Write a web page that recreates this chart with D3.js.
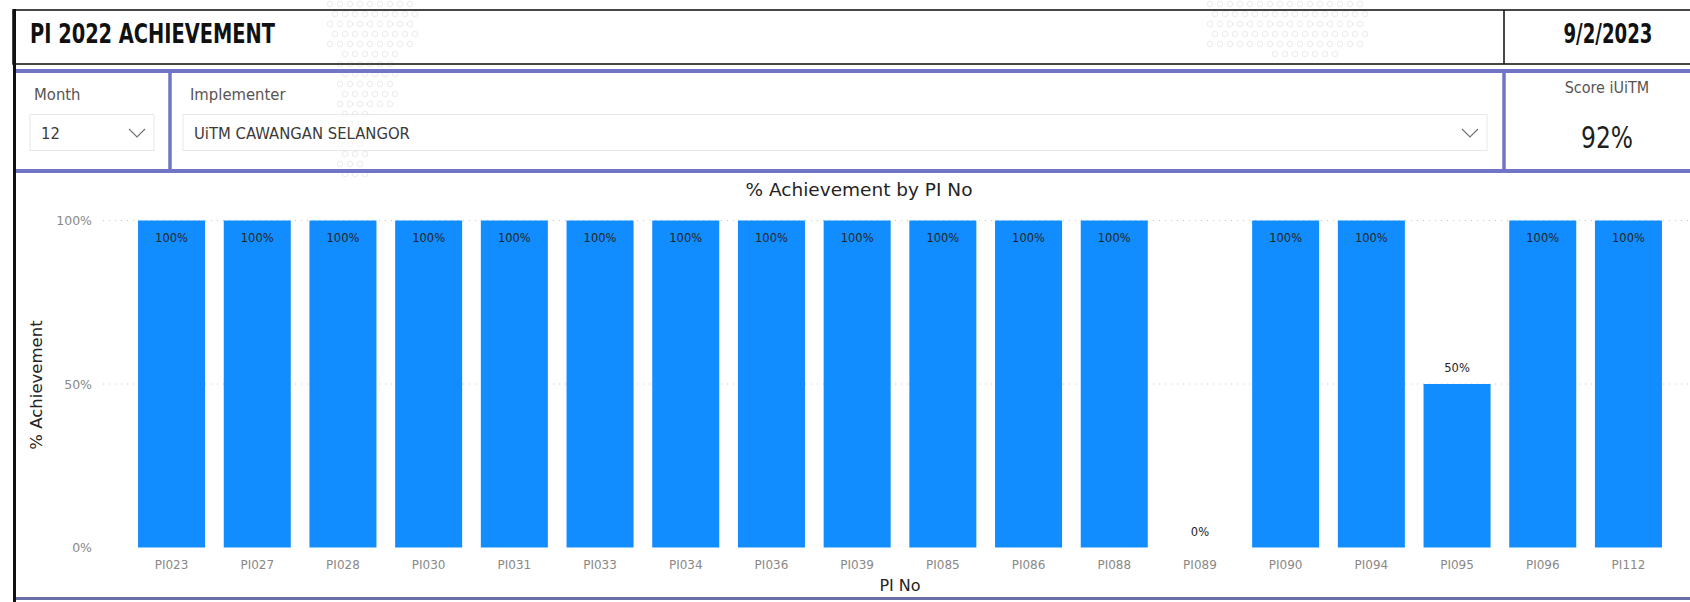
<!DOCTYPE html>
<html lang="en">

<head>
    <meta charset="utf-8" />
    <title>PI 2022 Achievement</title>
    <script type="text/javascript" src="https://cdn.jsdelivr.net/npm/d3@7"></script>
    <style type="text/css">
        body {
            margin: 0;
            background: #ffffff;
        }
        svg {
            display: block;
        }
        .narrow {
            font-family: "Liberation Sans Narrow", "DejaVu Sans Condensed", sans-serif;
        }
        .ui {
            font-family: "DejaVu Sans Condensed", "DejaVu Sans", sans-serif;
        }
        .chart {
            font-family: "DejaVu Sans", sans-serif;
        }
    </style>
</head>

<body>
    <script type="text/javascript">
        // data
        var piNo = ["PI023", "PI027", "PI028", "PI030", "PI031", "PI033", "PI034", "PI036", "PI039",
            "PI085", "PI086", "PI088", "PI089", "PI090", "PI094", "PI095", "PI096", "PI112"];
        var achievement = [1, 1, 1, 1, 1, 1, 1, 1, 1, 1, 1, 1, 0, 1, 1, 0.5, 1, 1];
        var yTicks = [0, 0.5, 1];
        var reportTitle = "PI 2022 ACHIEVEMENT";
        var reportDate = "9/2/2023";
        var monthValue = "12";
        var implementerValue = "UiTM CAWANGAN SELANGOR";

        var w = 1690;
        var h = 602;
        var purple = "#7075c6";
        var barColor = "#118dff";

        var svg = d3.select("body")
            .append("svg")
            .attr("width", w)
            .attr("height", h);

        //---- faint dotted watermark behind everything
        var wm = svg.append("g")
            .attr("fill", "none")
            .attr("stroke", "#ececec")
            .attr("stroke-width", 1);
        var dots = [];
        d3.range(0, 18).forEach(function(r) {
            var n = r < 5 ? 9 : (r < 11 ? 6 : 3);
            var x0 = r < 5 ? 330 : 340;
            d3.range(0, n).forEach(function(c) {
                dots.push([x0 + c * 10 + (r % 2) * 5, 4 + r * 10]);
            });
        });
        d3.range(0, 6).forEach(function(r) {
            var n = r < 5 ? 16 : 7;
            d3.range(0, n).forEach(function(c) {
                dots.push([1210 + c * 10 + (r % 2) * 5 + (r < 5 ? 0 : 60), 4 + r * 10]);
            });
        });
        wm.selectAll("circle")
            .data(dots)
            .enter()
            .append("circle")
            .attr("cx", function(d) { return d[0]; })
            .attr("cy", function(d) { return d[1]; })
            .attr("r", 2.8);

        //---- header box
        svg.append("rect")
            .attr("x", 13).attr("y", 10)
            .attr("width", 1700).attr("height", 54)
            .attr("fill", "none")
            .attr("stroke", "#1a1a1a")
            .attr("stroke-width", 1.6);
        svg.append("line")
            .attr("x1", 1504).attr("x2", 1504)
            .attr("y1", 10).attr("y2", 64)
            .attr("stroke", "#1a1a1a")
            .attr("stroke-width", 1.6);
        svg.append("text")
            .attr("class", "narrow")
            .attr("x", 30).attr("y", 43)
            .attr("font-size", "26px")
            .attr("font-weight", "bold")
            .attr("fill", "#111")
            .attr("textLength", 245)
            .attr("lengthAdjust", "spacingAndGlyphs")
            .text(reportTitle);
        svg.append("text")
            .attr("class", "narrow")
            .attr("x", 1563.5).attr("y", 43)
            .attr("font-size", "26px")
            .attr("font-weight", "bold")
            .attr("fill", "#111")
            .attr("textLength", 89)
            .attr("lengthAdjust", "spacingAndGlyphs")
            .text(reportDate);

        //---- slicer panel
        [71, 171].forEach(function(y) {
            svg.append("line")
                .attr("x1", 14).attr("x2", w)
                .attr("y1", y).attr("y2", y)
                .attr("stroke", purple)
                .attr("stroke-width", 4);
        });
        [170, 1504].forEach(function(x) {
            svg.append("line")
                .attr("x1", x).attr("x2", x)
                .attr("y1", 69).attr("y2", 173)
                .attr("stroke", purple)
                .attr("stroke-width", 3.5);
        });

        function slicer(label, value, lx, bx, bw) {
            svg.append("text")
                .attr("class", "ui")
                .attr("x", lx).attr("y", 100)
                .attr("font-size", "16.5px")
                .attr("fill", "#5a5452")
                .text(label);
            svg.append("rect")
                .attr("x", bx).attr("y", 114.5)
                .attr("width", bw).attr("height", 36)
                .attr("fill", "white")
                .attr("fill-opacity", 0.6)
                .attr("stroke", "#e8e8e8");
            svg.append("text")
                .attr("class", "ui")
                .attr("x", bx + 11).attr("y", 139)
                .attr("font-size", "16.5px")
                .attr("fill", "#3b3a39")
                .text(value);
            var cx = bx + bw - 17;
            svg.append("path")
                .attr("d", "M" + (cx - 8) + ",129 L" + cx + ",137 L" + (cx + 8) + ",129")
                .attr("fill", "none")
                .attr("stroke", "#6f6f6f")
                .attr("stroke-width", 1.1);
        }
        slicer("Month", monthValue, 34, 30, 124);
        slicer("Implementer", implementerValue, 190, 183, 1304);

        // card: overall score = mean achievement
        var score = d3.mean(achievement);
        svg.append("text")
            .attr("class", "ui")
            .attr("x", 1607).attr("y", 93)
            .attr("text-anchor", "middle")
            .attr("font-size", "16px")
            .attr("fill", "#5a5452")
            .text("Score iUiTM");
        svg.append("text")
            .attr("class", "narrow")
            .attr("x", 1581).attr("y", 148)
            .attr("font-size", "30px")
            .attr("fill", "#201f1e")
            .attr("textLength", 52)
            .attr("lengthAdjust", "spacingAndGlyphs")
            .text(d3.format(".0%")(score));

        //---- chart panel
        svg.append("line")
            .attr("x1", 14).attr("x2", w)
            .attr("y1", 598.5).attr("y2", 598.5)
            .attr("stroke", "#6a6ea8")
            .attr("stroke-width", 3);
        svg.append("line")
            .attr("x1", 14.5).attr("x2", 14.5)
            .attr("y1", 9).attr("y2", h)
            .attr("stroke", "#111")
            .attr("stroke-width", 3);

        var xScale = d3.scaleBand()
            .domain(piNo)
            .range([128.7, 1671.3])
            .paddingInner(0.218)
            .paddingOuter(0.109);

        var yScale = d3.scaleLinear()
            .domain([0, 1])
            .range([547.5, 220.5]);

        var chart = svg.append("g").attr("class", "chart");

        chart.append("text")
            .attr("x", 859).attr("y", 196)
            .attr("text-anchor", "middle")
            .attr("font-size", "18.5px")
            .attr("fill", "#252423")
            .text("% Achievement by PI No");

        // gridlines
        chart.selectAll("line.grid")
            .data(yTicks.filter(function(d) { return d > 0; }))
            .enter()
            .append("line")
            .attr("class", "grid")
            .attr("x1", 103).attr("x2", w)
            .attr("y1", function(d) { return yScale(d); })
            .attr("y2", function(d) { return yScale(d); })
            .attr("stroke", "#c8c6c4")
            .attr("stroke-width", 1)
            .attr("stroke-dasharray", "1,5");

        // y axis
        var yAxis = d3.axisLeft(yScale)
            .tickValues(yTicks)
            .tickFormat(d3.format(".0%"))
            .tickSize(0)
            .tickPadding(0);
        var yg = chart.append("g")
            .attr("transform", "translate(92,0)")
            .call(yAxis);
        yg.select(".domain").remove();
        yg.selectAll("text")
            .attr("font-family", "DejaVu Sans, sans-serif")
            .attr("font-size", "12.5px")
            .attr("fill", "#8a8886");

        // x axis
        var xAxis = d3.axisBottom(xScale).tickSize(0).tickPadding(0);
        var xg = chart.append("g")
            .attr("transform", "translate(0,560)")
            .call(xAxis);
        xg.select(".domain").remove();
        xg.selectAll("text")
            .attr("font-family", "DejaVu Sans, sans-serif")
            .attr("font-size", "12px")
            .attr("fill", "#8a8886");

        // bars
        chart.selectAll("rect.bar")
            .data(achievement)
            .enter()
            .append("rect")
            .attr("class", "bar")
            .attr("x", function(d, i) { return xScale(piNo[i]); })
            .attr("y", function(d) { return yScale(d); })
            .attr("width", xScale.bandwidth())
            .attr("height", function(d) { return yScale(0) - yScale(d); })
            .attr("fill", barColor);

        // data labels
        chart.selectAll("text.val")
            .data(achievement)
            .enter()
            .append("text")
            .attr("class", "val")
            .attr("x", function(d, i) { return xScale(piNo[i]) + xScale.bandwidth() / 2; })
            .attr("y", function(d) {
                if (d > 0.9) {
                    return yScale(d) + 21;
                } else {
                    return yScale(d) - 12;
                }
            })
            .attr("text-anchor", "middle")
            .attr("font-size", "11.5px")
            .attr("fill", "#252423")
            .text(function(d) { return d3.format(".0%")(d); });

        // axis titles
        chart.append("text")
            .attr("transform", "translate(36,385) rotate(-90)")
            .attr("text-anchor", "middle")
            .attr("dy", "0.35em")
            .attr("font-size", "16.5px")
            .attr("fill", "#252423")
            .text("% Achievement");
        chart.append("text")
            .attr("x", (xScale.range()[0] + xScale.range()[1]) / 2)
            .attr("y", 591)
            .attr("text-anchor", "middle")
            .attr("font-size", "16px")
            .attr("fill", "#252423")
            .text("PI No");
    </script>
</body>

</html>
